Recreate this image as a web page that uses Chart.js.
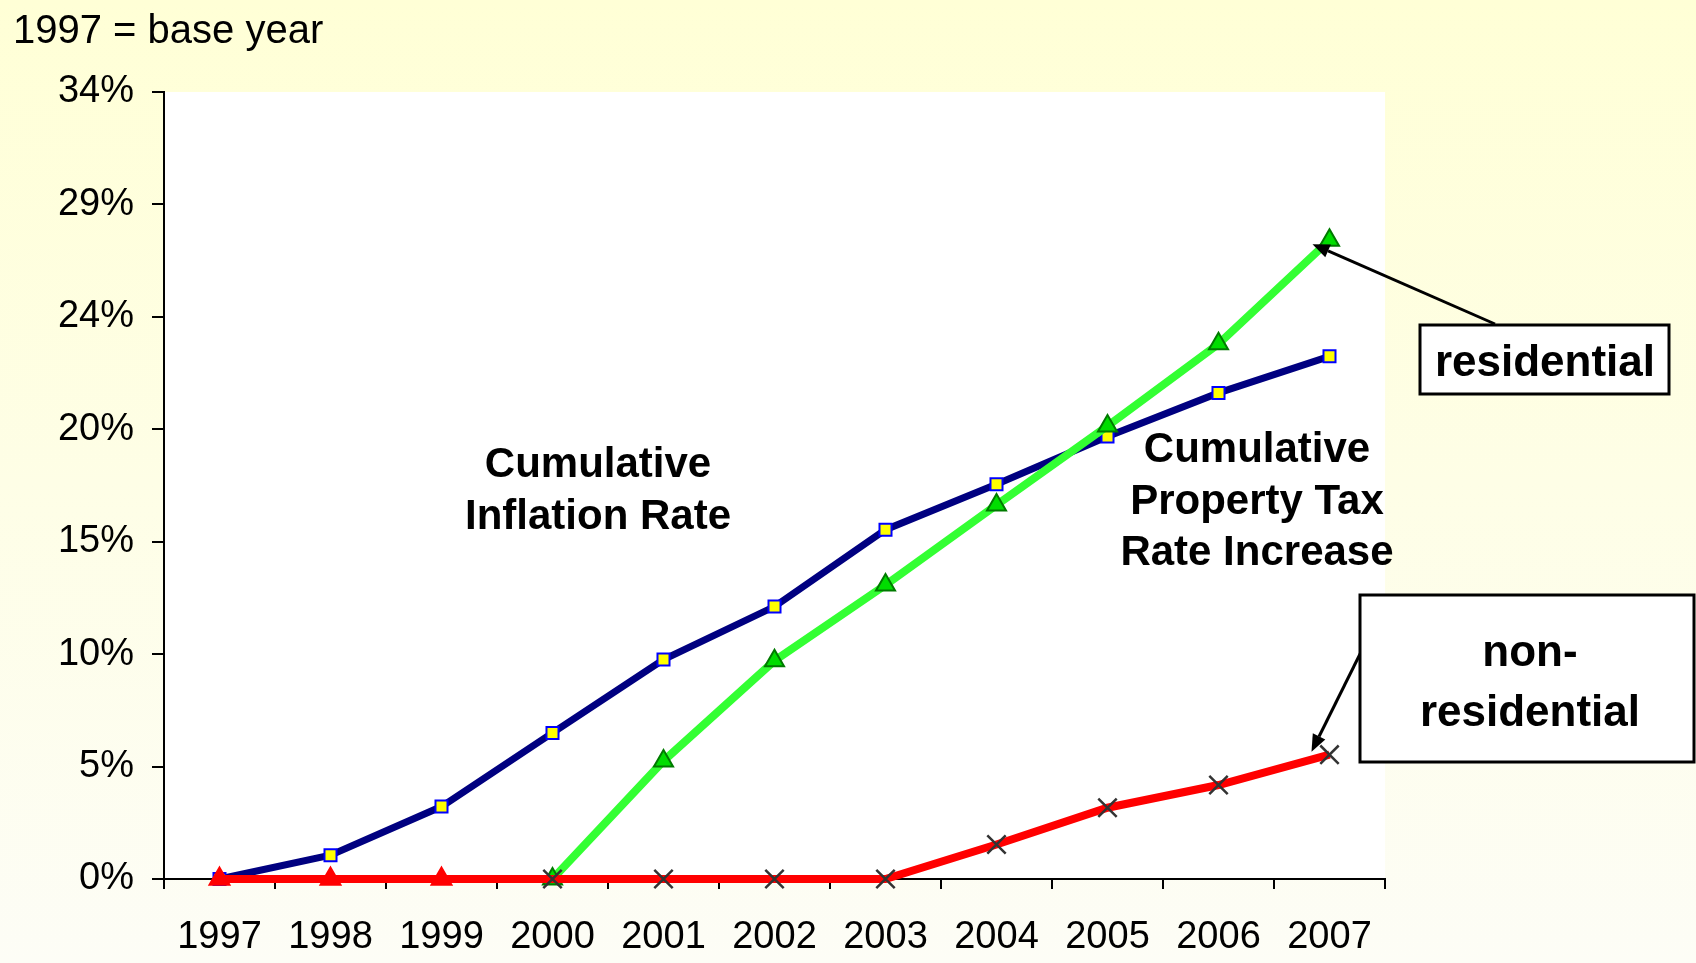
<!DOCTYPE html>
<html><head><meta charset="utf-8">
<script src="https://cdn.jsdelivr.net/npm/chart.js@4"></script>
<style>
html,body{margin:0;padding:0;width:1696px;height:963px;overflow:hidden;background:linear-gradient(#FFFFD6,#FDFDF6);}
#wrap{position:relative;width:1696px;height:963px;}
canvas{display:block;}
</style></head><body>
<div id="wrap"><canvas id="c" width="1696" height="963"></canvas></div>
<script>
const years = ['1997','1998','1999','2000','2001','2002','2003','2004','2005','2006','2007'];
const inflation = [0, 1.03, 3.13, 6.31, 9.48, 11.77, 15.09, 17.05, 19.12, 21.0, 22.58];
const residential = [null, null, null, 0, 5.1, 9.43, 12.7, 16.16, 19.57, 23.12, 27.6];
const nonResidential = [0, 0, 0, 0, 0, 0, 0, 1.49, 3.08, 4.06, 5.37];
const yTickLabels = ['0%','5%','10%','15%','20%','24%','29%','34%'];
const yMax = 34;
const titleText = '1997 = base year';

const FONT = '"Liberation Sans", Arial, sans-serif';

const redStyles = nonResidential.map((v,i)=> i<3 ? 'triangle' : 'crossRot');
const redRadius = nonResidential.map((v,i)=> i<3 ? 11 : 13);
const redFill = nonResidential.map((v,i)=> i<3 ? '#FF0000' : '#333333');
const redBorder = nonResidential.map((v,i)=> i<3 ? '#FF0000' : '#333333');

function arrow(ctx, x1, y1, x2, y2){
  const ang = Math.atan2(y2-y1, x2-x1);
  const L = 17, W = 7;
  const bx = x2 - L*Math.cos(ang), by = y2 - L*Math.sin(ang);
  ctx.beginPath(); ctx.moveTo(x1,y1); ctx.lineTo(bx,by);
  ctx.strokeStyle='#000'; ctx.lineWidth=3; ctx.stroke();
  ctx.beginPath();
  ctx.moveTo(x2,y2);
  ctx.lineTo(bx + W*Math.sin(ang), by - W*Math.cos(ang));
  ctx.lineTo(bx - W*Math.sin(ang), by + W*Math.cos(ang));
  ctx.closePath(); ctx.fillStyle='#000'; ctx.fill();
}

const deco = {
  id:'deco',
  beforeDraw(chart){
    const {ctx, chartArea:a} = chart;
    ctx.save(); ctx.fillStyle='#FFFFFF';
    ctx.fillRect(a.left, a.top, a.right-a.left, a.bottom-a.top);
    ctx.restore();
  },
  afterDraw(chart){
    const ctx = chart.ctx;
    ctx.save();
    ctx.fillStyle='#000'; ctx.textBaseline='alphabetic';
    ctx.font = '40px ' + FONT; ctx.textAlign='left';
    ctx.fillText(titleText, 13, 43);
    ctx.font = 'bold 42px ' + FONT; ctx.textAlign='center';
    ctx.fillText('Cumulative', 598, 477);
    ctx.fillText('Inflation Rate', 598, 529);
    ctx.fillText('Cumulative', 1257, 462);
    ctx.fillText('Property Tax', 1257, 514);
    ctx.fillText('Rate Increase', 1257, 565);
    // arrows
    const xs = chart.scales.x, ys = chart.scales.y;
    const last = years.length-1;
    const pr = {x: xs.getPixelForValue(last), y: ys.getPixelForValue(residential[last])};
    const pn = {x: xs.getPixelForValue(last), y: ys.getPixelForValue(nonResidential[last])};
    arrow(ctx, 1495, 324, pr.x-17, pr.y+4);
    arrow(ctx, 1363, 648, pn.x-18, pn.y-3);
    // boxes
    ctx.lineWidth = 3; ctx.strokeStyle='#000'; ctx.fillStyle='#fff';
    ctx.fillRect(1420,325,249,69); ctx.strokeRect(1420,325,249,69);
    ctx.fillRect(1360,595,334,167); ctx.strokeRect(1360,595,334,167);
    ctx.fillStyle='#000';
    ctx.font = 'bold 44px ' + FONT;
    ctx.fillText('residential', 1545, 376);
    ctx.fillText('non-', 1530, 666);
    ctx.fillText('residential', 1530, 726);
    ctx.restore();
  }
};

new Chart(document.getElementById('c'), {
  type:'line',
  data:{
    labels: years,
    datasets:[
      { label:'Cumulative Inflation Rate', data: inflation, order:3, clip:false,
        borderColor:'#000080', borderWidth:7, tension:0,
        pointStyle:'rect', pointRadius:8.5, pointBackgroundColor:'#FFFF00',
        pointBorderColor:'#0000FF', pointBorderWidth:2 },
      { label:'Residential', data: residential, order:2, clip:false,
        borderColor:'#33FF33', borderWidth:8, tension:0,
        pointStyle:'triangle', pointRadius:11, pointBackgroundColor:'#00DD00',
        pointBorderColor:'#007A00', pointBorderWidth:2 },
      { label:'Non-residential', data: nonResidential, order:1, clip:false,
        borderColor:'#FF0000', borderWidth:8, tension:0,
        pointStyle: redStyles, pointRadius: redRadius, pointBackgroundColor: redFill,
        pointBorderColor: redBorder, pointBorderWidth:2.5 }
    ]
  },
  options:{
    responsive:false, animation:false, devicePixelRatio:1,
    layout:{padding:{top:92, right:311, bottom:0, left:0}},
    plugins:{legend:{display:false}, tooltip:{enabled:false}, title:{display:false}},
    scales:{
      x:{ type:'category', offset:true,
        grid:{offset:true, drawOnChartArea:false, drawTicks:true, tickLength:10, color:'#000', lineWidth:2},
        border:{display:true, color:'#000', width:2},
        ticks:{color:'#000', font:{family:FONT, size:38}, padding:26, maxRotation:0, autoSkip:false},
        afterFit(s){ s.height = 84; } },
      y:{ min:0, max:yMax,
        afterBuildTicks(s){ s.ticks = yTickLabels.map((l,i)=>({value: i*yMax/(yTickLabels.length-1)})); },
        grid:{drawOnChartArea:false, drawTicks:true, tickLength:12, color:'#000', lineWidth:2},
        border:{display:true, color:'#000', width:2},
        ticks:{color:'#000', font:{family:FONT, size:38}, padding:18, callback:(v,i)=>yTickLabels[i]},
        afterFit(s){ s.width = 164; } }
    }
  },
  plugins:[deco]
});
</script>
</body></html>
